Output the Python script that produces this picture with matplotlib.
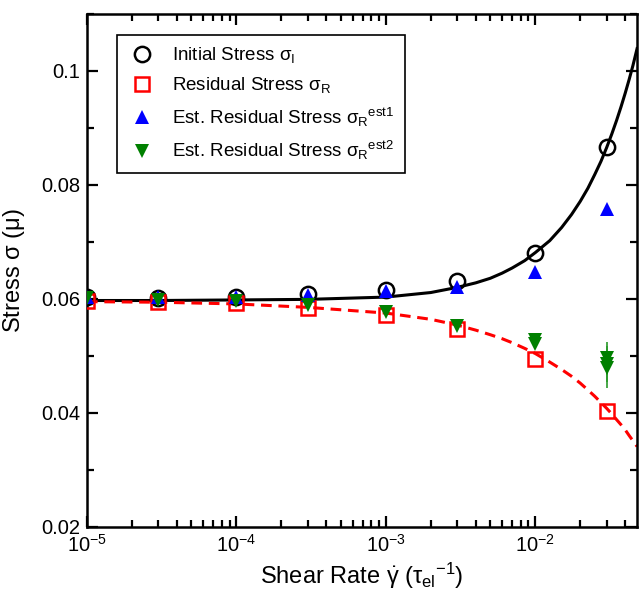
import matplotlib
matplotlib.use("Agg")
import matplotlib.pyplot as plt
from matplotlib.lines import Line2D
from matplotlib.ticker import LogLocator, MultipleLocator, FuncFormatter, NullFormatter

plt.rcParams['font.family'] = ['Liberation Sans', 'DejaVu Sans']
plt.rcParams['mathtext.fontset'] = 'custom'
plt.rcParams['mathtext.rm'] = 'Liberation Sans'
plt.rcParams['mathtext.it'] = 'Liberation Sans'
plt.rcParams['mathtext.bf'] = 'Liberation Sans:bold'

# shear rates of the runs
rates = [1e-5, 3e-5, 1e-4, 3e-4, 1e-3, 3e-3, 1e-2, 3e-2]
initial_stress = [0.0603, 0.0602, 0.0604, 0.0608, 0.0615, 0.0632, 0.0681, 0.0867]
residual_stress = [0.0597, 0.0594, 0.0592, 0.0584, 0.0571, 0.0547, 0.0494, 0.0403]
est1_stress = [0.0604, 0.0603, 0.0604, 0.0607, 0.0614, 0.0621, 0.0647, 0.0758]

# second estimate, several windows at the highest rates
est2_rates = [1e-5, 3e-5, 1e-4, 3e-4, 1e-3, 3e-3, 1e-2, 1e-2, 3e-2, 3e-2, 3e-2]
est2_stress = [0.0601, 0.0598, 0.0596, 0.0589, 0.0577, 0.0553, 0.0528, 0.0521, 0.0497, 0.0486, 0.0478]
est2_err = [0.0003, 0.0003, 0.0003, 0.0004, 0.0004, 0.0005, 0.0006, 0.0006, 0.0028, 0.0032, 0.0034]

# fitted curves
fit_rates = [1e-5, 3e-5, 1e-4, 3e-4, 1e-3, 2e-3, 3e-3, 4e-3, 5e-3, 6e-3, 7e-3, 8.5e-3, 1e-2,
             1.25e-2, 1.5e-2, 1.75e-2, 2e-2, 2.25e-2, 2.5e-2, 2.75e-2, 3e-2, 3.25e-2,
             3.5e-2, 3.75e-2, 4e-2, 4.25e-2, 4.5e-2, 4.8e-2]
fit_initial = [0.0597, 0.0597, 0.0598, 0.0599, 0.0603, 0.0611, 0.0620, 0.0628, 0.0636, 0.0645,
               0.0654, 0.0667, 0.0681, 0.0702, 0.0725, 0.0748, 0.0771, 0.0794, 0.0818, 0.0841,
               0.0865, 0.0889, 0.0913, 0.0937, 0.0961, 0.0985, 0.1009, 0.1039]
fit_residual = [0.0595, 0.0594, 0.0591, 0.0585, 0.0575, 0.0564, 0.0554, 0.0545, 0.0537, 0.0530,
                0.0523, 0.0513, 0.0504, 0.0489, 0.0476, 0.0464, 0.0452, 0.0440, 0.0429, 0.0418,
                0.0408, 0.0398, 0.0388, 0.0379, 0.0370, 0.0360, 0.0351, 0.0341]

fig = plt.figure(figsize=(6.39, 6.0), dpi=100)
ax = fig.add_axes([0.136, 0.122, 0.861, 0.855])

ax.plot(fit_rates, fit_initial, color='black', lw=2.2, zorder=2)
ax.plot(fit_rates, fit_residual, color='red', lw=2.2, dashes=(3.5, 2.2), zorder=2)

h1, = ax.plot(rates, initial_stress, 'o', ms=11, mfc='none', mec='black', mew=1.8, zorder=3)
h2, = ax.plot(rates, residual_stress, 's', ms=10, mfc='none', mec='red', mew=1.8, zorder=3)
h3, = ax.plot(rates, est1_stress, '^', ms=10, color='blue', mew=0, zorder=4)
ax.errorbar(est2_rates, est2_stress, yerr=est2_err, fmt='v', ms=10, color='green',
            mew=0, ecolor='#2a9a2a', elinewidth=1.2, capsize=5, capthick=1.2, zorder=5)
h4 = Line2D([], [], marker='v', ls='none', ms=10, color='green', mew=0)

ax.set_xscale('log')
ax.set_xlim(1e-5, 4.8e-2)
ax.set_ylim(0.02, 0.11)

ax.xaxis.set_major_locator(LogLocator(base=10, numticks=10))
ax.xaxis.set_minor_locator(LogLocator(base=10, subs=range(2, 10), numticks=20))
ax.xaxis.set_minor_formatter(NullFormatter())
ax.yaxis.set_major_locator(MultipleLocator(0.02))
ax.yaxis.set_minor_locator(MultipleLocator(0.01))
ax.yaxis.set_major_formatter(FuncFormatter(lambda v, p: '%g' % round(v, 3)))

ax.tick_params(which='both', direction='in', top=True, right=True, width=1.6, labelsize=14.5)
ax.tick_params(which='major', length=8, pad=5)
ax.tick_params(which='minor', length=5)
for s in ax.spines.values():
    s.set_linewidth(1.8)

ax.set_xlabel(r'Shear Rate $\dot{\gamma}$ ($\tau_{el}{}^{-1}$)', fontsize=17, labelpad=4)
ax.set_ylabel(r'Stress $\sigma$ ($\mu$)', fontsize=17, labelpad=10)

labels = [r'Initial Stress $\sigma_{I}$',
          r'Residual Stress $\sigma_{R}$',
          r'Est. Residual Stress $\sigma_{R}{}^{est1}$',
          r'Est. Residual Stress $\sigma_{R}{}^{est2}$']
leg = ax.legend([h1, h2, h3, h4], labels, loc='upper left', bbox_to_anchor=(0.055, 0.959),
                borderaxespad=0, fontsize=13.5, fancybox=False, edgecolor='black', framealpha=1,
                handletextpad=0.8, labelspacing=0.55, borderpad=0.55, handlelength=1.6)
leg.get_frame().set_linewidth(1.2)

fig.savefig('out.png', dpi=100)
